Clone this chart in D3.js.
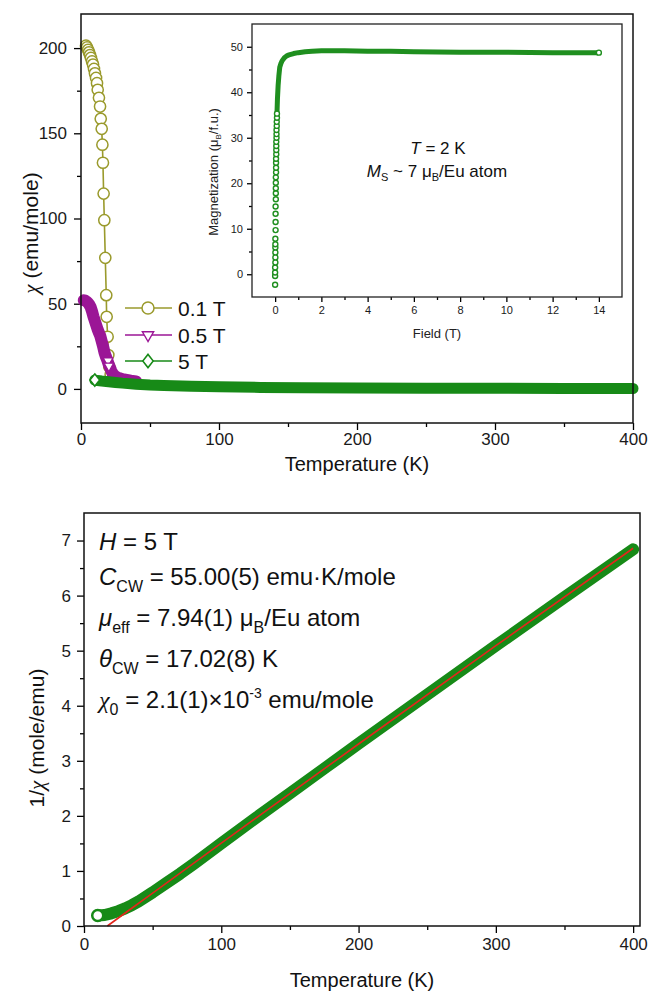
<!DOCTYPE html>
<html>
<head>
<meta charset="utf-8">
<script src="https://cdn.jsdelivr.net/npm/d3@7.9.0/dist/d3.min.js"></script>
<style>
  body { margin: 0; background: #fff; }
  svg { display: block; font-family: 'Liberation Sans', Arial, sans-serif; }
  .tick text { fill: #1a1a1a; }
  .tick line { stroke: #000; stroke-width: 1.3; }
</style>
</head>
<body>
<svg id="chart" width="650" height="992"></svg>
<script>
// ---- top panel: chi(T) at three fields ----
const t01 = [3.6, 4.4, 5.1, 5.8, 6.5, 7.2, 8.0, 8.7, 9.4, 10.1, 10.9, 11.6, 12.1, 13.0, 13.8, 14.3, 15.0, 15.5, 15.9, 16.4, 16.9, 17.6, 18.3, 18.6, 19.3, 19.8, 20.5, 21.5, 23, 26, 30];
const chi01 = [201.4, 200.4, 198.9, 197.5, 195.9, 194.2, 192.2, 190.3, 187.8, 185.2, 182.5, 179.4, 175.5, 170.8, 165.7, 158.5, 152.6, 143.3, 132.7, 114.6, 99.0, 76.9, 55.0, 42.3, 30.6, 19.9, 13.0, 8.5, 6.0, 4.8, 4.2];

const t05 = [2, 3, 4, 5, 6, 7, 8, 9, 10, 11, 12, 13, 14, 15, 16, 17, 18, 19, 20, 21, 22, 23, 24, 26, 28, 30, 33, 36, 40];
const chi05 = [52, 51.8, 51.3, 50.6, 49.5, 48, 45.5, 42.5, 40, 37.5, 35, 33, 31, 28, 25, 21.5, 19, 17, 14.5, 12.5, 10.5, 9, 8, 6.8, 6.2, 5.8, 5.3, 4.8, 4.4];
// triangles that stay visible as open markers
const t05open = [19.6, 20.2];
const chi05open = [16.5, 13.5];

const t5 = [10, 12, 15, 20, 25, 30, 40, 50, 60, 80, 100, 130, 160, 200, 250, 300, 350, 400];
const chi5 = [5.2, 4.9, 4.6, 4.2, 3.8, 3.4, 2.8, 2.3, 2.0, 1.5, 1.2, 0.9, 0.7, 0.55, 0.45, 0.35, 0.3, 0.25];

const legendLabels = ['0.1 T', '0.5 T', '5 T'];
const seriesColors = ['#9a9a2c', '#9b1696', '#178a17'];

// ---- inset: M(H) at 2 K ----
const hLow = [0, 0, 0, 0, 0.01, 0.01, 0.01, 0.01, 0.01, 0.01, 0.02, 0.02, 0.02, 0.02, 0.03, 0.03, 0.03, 0.03, 0.03, 0.04, 0.04, 0.04, 0.04, 0.05, 0.05, 0.05, 0.05, 0.06, 0.06, 0.06, 0.07, 0.07, 0.08, 0.08];
const mLow = [-2.3, -0.4, 0.4, 1.5, 2.6, 3.7, 4.8, 5.9, 6.6, 7.8, 9.7, 11.5, 13.3, 14.9, 16.5, 17.8, 18.9, 20.1, 21.3, 22.4, 23.4, 24.5, 25.4, 26.4, 27.3, 28.2, 29.1, 30.0, 30.8, 31.7, 32.6, 33.5, 34.4, 35.3];
const hBand = [0.08, 0.1, 0.13, 0.16, 0.2, 0.25, 0.3, 0.4, 0.5, 0.6, 0.8, 1.0, 1.3, 1.6, 2, 3, 4, 5, 6, 8, 10, 12, 14];
const mBand = [35.3, 38.5, 41.5, 43.5, 45.5, 46.3, 46.9, 47.6, 48.0, 48.2, 48.5, 48.7, 48.9, 49.0, 49.1, 49.1, 49.0, 49.0, 48.9, 48.8, 48.8, 48.7, 48.7];

// ---- bottom panel: 1/chi(T) at 5 T with Curie-Weiss fit ----
const tInv = [10, 15, 20, 25, 30, 35, 40, 50, 60, 70, 80, 100, 125, 150, 175, 200, 250, 300, 350, 400];
const invChi = [0.19, 0.2, 0.23, 0.27, 0.32, 0.38, 0.45, 0.61, 0.78, 0.95, 1.13, 1.5, 1.96, 2.41, 2.86, 3.31, 4.2, 5.09, 5.97, 6.84];
const tFit = [17, 30, 50, 100, 200, 300, 400];
const invFit = [0, 0.236, 0.596, 1.504, 3.305, 5.09, 6.86];

const svg = d3.select('#chart');
const zip = (a, b) => a.map((v, i) => [v, b[i]]);

function drawAxis(g, axisFn, scale, majors, minors, len, minorLen, pad, fontSize) {
  g.call(axisFn(scale).tickValues(majors).tickSize(len).tickSizeOuter(0).tickPadding(pad))
    .call((s) => s.select('.domain').remove())
    .selectAll('text').attr('font-size', fontSize).attr('font-family', 'Liberation Sans, Arial, sans-serif');
  g.append('g')
    .call(axisFn(scale).tickValues(minors).tickSize(minorLen).tickSizeOuter(0).tickFormat(''))
    .call((s) => s.select('.domain').remove());
}

// ===== top panel =====
const xT = d3.scaleLinear().domain([0, 400]).range([81, 633]);
const yT = d3.scaleLinear().domain([-20, 220]).range([423, 14]);

drawAxis(svg.append('g').attr('transform', 'translate(0,423)'), d3.axisBottom, xT,
  [0, 100, 200, 300, 400], [50, 150, 250, 350], 7, 4, 3, 17);
drawAxis(svg.append('g').attr('transform', 'translate(81,0)'), d3.axisLeft, yT,
  [0, 50, 100, 150, 200], [25, 75, 125, 175], 7, 4, 7, 17);

const lineT = d3.line().x((d) => xT(d[0])).y((d) => yT(d[1]));

// 0.1 T
const d01 = zip(t01, chi01);
svg.append('path').attr('d', lineT(d01)).attr('fill', 'none')
  .attr('stroke', seriesColors[0]).attr('stroke-width', 1.6);
svg.append('g').selectAll('circle').data(d01).join('circle')
  .attr('cx', (d) => xT(d[0])).attr('cy', (d) => yT(d[1])).attr('r', 5.6)
  .attr('fill', '#fff').attr('stroke', seriesColors[0]).attr('stroke-width', 1.5);

// 0.5 T (dense data -> thick band)
const d05 = zip(t05, chi05);
svg.append('path').attr('d', lineT(d05)).attr('fill', 'none')
  .attr('stroke', seriesColors[1]).attr('stroke-width', 12)
  .attr('stroke-linecap', 'round').attr('stroke-linejoin', 'round');
const tri = d3.symbol().type(d3.symbolTriangle).size(40);
svg.append('g').selectAll('path').data(zip(t05open, chi05open)).join('path')
  .attr('d', tri).attr('transform', (d) => `translate(${xT(d[0])},${yT(d[1])}) rotate(180)`)
  .attr('fill', '#fff').attr('stroke', seriesColors[1]).attr('stroke-width', 1.2);

// 5 T
const d5 = zip(t5, chi5);
svg.append('path').attr('d', lineT(d5)).attr('fill', 'none')
  .attr('stroke', seriesColors[2]).attr('stroke-width', 11)
  .attr('stroke-linecap', 'round').attr('stroke-linejoin', 'round');
const dia = d3.symbol().type(d3.symbolDiamond).size(60);
svg.append('path').attr('d', dia)
  .attr('transform', `translate(${xT(d5[0][0])},${yT(d5[0][1])}) scale(1.15,0.85)`)
  .attr('fill', '#fff').attr('stroke', seriesColors[2]).attr('stroke-width', 1.5);

// legend
const legendY = [308, 335, 361];
const markers = [
  (g, c) => g.append('circle').attr('r', 6).attr('fill', '#fff').attr('stroke', c).attr('stroke-width', 1.5),
  (g, c) => g.append('path').attr('d', d3.symbol().type(d3.symbolTriangle).size(55)).attr('transform', 'rotate(180)')
    .attr('fill', '#fff').attr('stroke', c).attr('stroke-width', 1.4),
  (g, c) => g.append('path').attr('d', d3.symbol().type(d3.symbolDiamond).size(70)).attr('transform', 'scale(1.15,0.85)')
    .attr('fill', '#fff').attr('stroke', c).attr('stroke-width', 1.5),
];
legendLabels.forEach((lab, i) => {
  const g = svg.append('g').attr('transform', `translate(0,${legendY[i]})`);
  g.append('line').attr('x1', 125).attr('x2', 172).attr('y1', 0).attr('y2', 0)
    .attr('stroke', seriesColors[i]).attr('stroke-width', 1.6);
  markers[i](g.append('g').attr('transform', 'translate(148,0)'), seriesColors[i]);
  g.append('text').attr('x', 178).attr('y', 8).attr('font-size', 21).attr('fill', '#111').text(lab);
});

// frame
svg.append('rect').attr('x', 81).attr('y', 14).attr('width', 552).attr('height', 409)
  .attr('fill', 'none').attr('stroke', '#111').attr('stroke-width', 1.5);

// titles
svg.append('text').attr('x', 357).attr('y', 471).attr('text-anchor', 'middle')
  .attr('font-size', 20).attr('fill', '#111').text('Temperature (K)');
const yl1 = svg.append('text').attr('transform', 'translate(38,233) rotate(-90)')
  .attr('text-anchor', 'middle').attr('font-size', 21).attr('fill', '#111');
yl1.append('tspan').attr('font-family', 'Liberation Serif, serif').attr('font-style', 'italic').text('χ');
yl1.append('tspan').text(' (emu/mole)');

// ===== inset =====
const xI = d3.scaleLinear().domain([-1, 15]).range([252, 622]);
const yI = d3.scaleLinear().domain([-5, 55]).range([297, 24]);
svg.append('rect').attr('x', 252).attr('y', 24).attr('width', 370).attr('height', 273)
  .attr('fill', '#fff');
drawAxis(svg.append('g').attr('transform', 'translate(0,297)'), d3.axisBottom, xI,
  [0, 2, 4, 6, 8, 10, 12, 14], [1, 3, 5, 7, 9, 11, 13], 5, 3, 4, 11);
drawAxis(svg.append('g').attr('transform', 'translate(252,0)'), d3.axisLeft, yI,
  [0, 10, 20, 30, 40, 50], [5, 15, 25, 35, 45], 5, 3, 4, 11);

const lineI = d3.line().x((d) => xI(d[0])).y((d) => yI(d[1]));
const inkI = '#1f8f1f';
svg.append('path').attr('d', lineI(zip(hBand, mBand))).attr('fill', 'none')
  .attr('stroke', inkI).attr('stroke-width', 5).attr('stroke-linejoin', 'round');
svg.append('path').attr('d', lineI(zip(hLow.slice(-8), mLow.slice(-8)))).attr('fill', 'none')
  .attr('stroke', inkI).attr('stroke-width', 4);
svg.append('g').selectAll('circle')
  .data(zip(hLow, mLow).concat([[hBand[hBand.length - 1], mBand[mBand.length - 1]]]))
  .join('circle')
  .attr('cx', (d) => xI(d[0])).attr('cy', (d) => yI(d[1])).attr('r', 2.5)
  .attr('fill', '#fff').attr('stroke', inkI).attr('stroke-width', 1.4);

svg.append('rect').attr('x', 252).attr('y', 24).attr('width', 370).attr('height', 273)
  .attr('fill', 'none').attr('stroke', '#222').attr('stroke-width', 1.3);

svg.append('text').attr('x', 437).attr('y', 338).attr('text-anchor', 'middle')
  .attr('font-size', 13).attr('fill', '#222').text('Field (T)');
const yl2 = svg.append('text').attr('transform', 'translate(218,172) rotate(-90)')
  .attr('text-anchor', 'middle').attr('font-size', 13).attr('fill', '#222');
yl2.append('tspan').text('Magnetization (μ');
yl2.append('tspan').attr('font-size', 8).attr('dy', 3).text('B');
yl2.append('tspan').attr('dy', -3).text('/f.u.)');

const it1 = svg.append('text').attr('x', 438).attr('y', 154).attr('text-anchor', 'middle')
  .attr('font-size', 17).attr('fill', '#111');
it1.append('tspan').attr('font-style', 'italic').text('T');
it1.append('tspan').text(' = 2 K');
const it2 = svg.append('text').attr('x', 437).attr('y', 177).attr('text-anchor', 'middle')
  .attr('font-size', 17).attr('fill', '#111');
it2.append('tspan').attr('font-style', 'italic').text('M');
it2.append('tspan').attr('font-size', 11).attr('dy', 4).text('S');
it2.append('tspan').attr('dy', -4).text(' ~ 7 μ');
it2.append('tspan').attr('font-size', 11).attr('dy', 4).text('B');
it2.append('tspan').attr('dy', -4).text('/Eu atom');

// ===== bottom panel =====
const xB = d3.scaleLinear().domain([0, 405]).range([84, 640]);
const yB = d3.scaleLinear().domain([0, 7.5]).range([926, 513]);

drawAxis(svg.append('g').attr('transform', 'translate(0,926)'), d3.axisBottom, xB,
  [0, 100, 200, 300, 400], [50, 150, 250, 350], 7, 4, 5, 17);
drawAxis(svg.append('g').attr('transform', 'translate(84,0)'), d3.axisLeft, yB,
  [0, 1, 2, 3, 4, 5, 6, 7], [0.5, 1.5, 2.5, 3.5, 4.5, 5.5, 6.5], 7, 4, 6, 17);

const lineB = d3.line().x((d) => xB(d[0])).y((d) => yB(d[1]));
const dInv = zip(tInv, invChi);
svg.append('path').attr('d', lineB(dInv)).attr('fill', 'none')
  .attr('stroke', seriesColors[2]).attr('stroke-width', 12)
  .attr('stroke-linecap', 'round').attr('stroke-linejoin', 'round');
svg.append('circle').attr('cx', xB(dInv[0][0])).attr('cy', yB(dInv[0][1])).attr('r', 5.5)
  .attr('fill', '#fff').attr('stroke', seriesColors[2]).attr('stroke-width', 2.5);
svg.append('path').attr('d', lineB(zip(tFit, invFit))).attr('fill', 'none')
  .attr('stroke', '#e3261c').attr('stroke-width', 1.6);

svg.append('rect').attr('x', 84).attr('y', 513).attr('width', 556).attr('height', 413)
  .attr('fill', 'none').attr('stroke', '#111').attr('stroke-width', 1.5);

svg.append('text').attr('x', 362).attr('y', 987).attr('text-anchor', 'middle')
  .attr('font-size', 20).attr('fill', '#111').text('Temperature (K)');
const yl3 = svg.append('text').attr('transform', 'translate(44,738) rotate(-90)')
  .attr('text-anchor', 'middle').attr('font-size', 21).attr('fill', '#111');
yl3.append('tspan').text('1/');
yl3.append('tspan').attr('font-family', 'Liberation Serif, serif').attr('font-style', 'italic').text('χ');
yl3.append('tspan').text(' (mole/emu)');

// fit parameters
const noteY = [550, 585, 626, 667, 708];
const notes = [
  [['H', 'i'], [' = 5 T', 'n']],
  [['C', 'i'], ['CW', 's'], [' = 55.00(5) emu·K/mole', 'n']],
  [['μ', 'i'], ['eff', 's'], [' = 7.94(1) μ', 'n'], ['B', 's'], ['/Eu atom', 'n']],
  [['θ', 'i'], ['CW', 's'], [' = 17.02(8) K', 'n']],
  [['χ', 'x'], ['0', 's'], [' = 2.1(1)×10', 'n'], ['-3', 'p'], [' emu/mole', 'n']],
];
notes.forEach((parts, i) => {
  const t = svg.append('text').attr('x', 99).attr('y', noteY[i]).attr('font-size', 24).attr('fill', '#111');
  let shift = 0;
  parts.forEach(([s, kind]) => {
    const sp = t.append('tspan').text(s);
    let target = 0;
    if (kind === 'i') sp.attr('font-style', 'italic');
    if (kind === 'x') sp.attr('font-style', 'italic').attr('font-family', 'Liberation Serif, serif');
    if (kind === 's') { sp.attr('font-size', 16); target = 7; }
    if (kind === 'p') { sp.attr('font-size', 14); target = -10; }
    sp.attr('dy', target - shift);
    shift = target;
  });
});
</script>
</body>
</html>
